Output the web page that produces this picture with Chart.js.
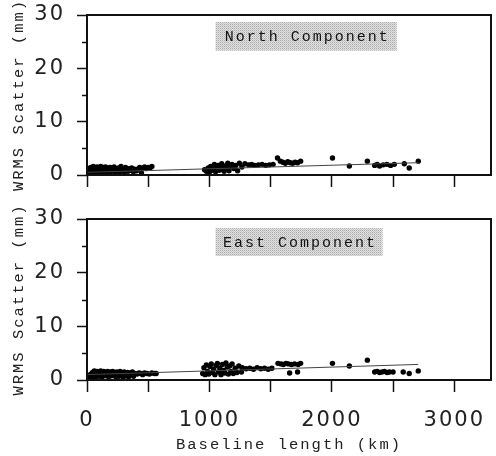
<!DOCTYPE html>
<html>
<head>
<meta charset="utf-8">
<script src="https://cdn.jsdelivr.net/npm/chart.js@4.4.1/dist/chart.umd.min.js"></script>
<style>
  body { margin: 0; background: #fff; }
  #wrap { position: relative; width: 496px; height: 456px; }
  canvas { position: absolute; left: 0; }
</style>
</head>
<body>
<div id="wrap">
  <canvas id="north" width="496" height="196" style="top:0"></canvas>
  <canvas id="east" width="496" height="260" style="top:196px"></canvas>
</div>
<script>
// axis ticks
const xTicks = [0, 500, 1000, 1500, 2000, 2500, 3000];
const xLabels = [0, 1000, 2000, 3000];
const yTicks = [0, 5, 10, 15, 20, 25, 30];
const yLabels = [0, 10, 20, 30];

// North component: baseline length (km) vs WRMS scatter (mm)
const northKm = [
  12, 18, 25, 30, 38, 45, 52, 60, 66, 75, 82, 90, 98, 105, 112, 120, 128, 135, 145, 152,
  160, 170, 178, 186, 195, 205, 214, 222, 232, 240, 250, 258, 268, 278, 288, 296, 305, 315, 325, 335,
  345, 355, 365, 378, 390, 405, 420, 430, 445, 455, 470, 485, 500, 515, 530,
  960, 975, 990, 1000, 1010, 1020, 1030, 1040, 1050, 1060, 1070, 1080, 1090, 1100, 1110, 1120, 1130,
  1140, 1150, 1160, 1170, 1185, 1200, 1215, 1230, 1245,
  1265, 1290, 1320, 1345, 1370, 1400, 1430, 1460, 1490, 1520,
  1556, 1580, 1600, 1620, 1640, 1660, 1680, 1700, 1720, 1745,
  2005, 2143, 2290, 2350, 2370, 2390, 2420, 2450, 2480, 2510, 2592, 2632, 2706
];
const northMm = [
  0.5, 1.2, 0.8, 1.4, 0.4, 1.1, 1.6, 0.7, 1.3, 0.5, 1.5, 0.9, 1.2, 0.4, 1.6, 1.0, 0.6, 1.4, 0.8, 1.5,
  0.5, 1.2, 0.9, 1.4, 0.6, 1.3, 1.0, 1.5, 0.5, 1.1, 0.8, 1.3, 0.6, 1.6, 0.9, 1.2, 0.5, 1.4, 1.0, 0.7,
  1.2, 0.9, 1.3, 0.6, 1.1, 0.8, 1.2, 1.4, 0.4, 1.3, 1.5, 1.2, 1.4, 1.3, 1.6,
  1.0, 0.7, 1.3, 0.5, 1.6, 0.9, 1.2, 2.0, 0.6, 1.4, 1.8, 0.9, 1.5, 2.1, 1.1, 0.7, 1.7,
  1.3, 2.2, 0.8, 1.6, 2.0, 1.2, 1.8, 0.8, 2.2,
  1.5, 2.1, 1.9, 2.0, 1.8, 1.9, 2.0, 1.8, 1.9, 2.0,
  3.2, 2.6, 2.4, 2.2, 2.5, 2.3, 2.2, 2.4, 2.3, 2.6,
  3.2, 1.7, 2.6, 1.8, 2.0, 1.7, 1.9, 2.0, 1.8, 2.0, 2.1, 1.3, 2.6
];
const northFitKm = [0, 2706];
const northFitMm = [0.5, 2.3];

// East component
const eastKm = [
  15, 22, 30, 38, 45, 52, 60, 68, 75, 82, 90, 98, 105, 112, 120, 128, 136, 145, 152, 160,
  168, 176, 185, 193, 200, 210, 218, 226, 235, 244, 252, 260, 270, 278, 286, 295, 304, 312, 320, 330,
  340, 350, 360, 370, 380, 392,
  410, 425, 440, 455, 470, 490, 510, 530, 550, 565,
  945, 955, 965, 975, 985, 995, 1005, 1015, 1025, 1035, 1045, 1055, 1065, 1075, 1085, 1095, 1105,
  1115, 1125, 1135, 1145, 1155, 1165, 1175, 1185, 1195, 1210, 1225, 1240,
  1262, 1268, 1300, 1330, 1360, 1390, 1420, 1450, 1480, 1510,
  1560, 1585, 1605, 1625, 1645, 1655, 1670, 1695, 1720, 1725, 1745,
  2005, 2143, 2290, 2350, 2370, 2390, 2410, 2430, 2450, 2470, 2500, 2583, 2632, 2706
];
const eastMm = [
  0.4, 0.8, 1.1, 0.5, 1.4, 0.9, 1.7, 0.6, 1.3, 1.6, 0.7, 1.5, 1.0, 1.7, 0.5, 1.3, 1.6, 0.8, 1.4, 1.1,
  1.6, 0.6, 1.3, 1.5, 0.8, 1.6, 1.0, 1.4, 0.6, 1.5, 1.2, 0.7, 1.6, 1.0, 1.3, 0.5, 1.5, 1.1, 0.8, 1.4,
  0.6, 1.3, 1.0, 1.5, 0.7, 1.2,
  1.1, 1.3, 1.2, 1.0, 1.3, 1.2, 1.1, 1.3, 1.2, 1.2,
  1.2, 2.3, 1.0, 2.8, 1.6, 1.1, 2.5, 3.0, 1.4, 2.0, 1.0, 2.7, 3.1, 1.5, 2.2, 1.0, 2.9,
  1.8, 1.3, 3.2, 2.4, 1.1, 2.6, 1.6, 3.0, 1.2, 2.2, 1.4, 2.6,
  1.5, 2.3, 2.1, 2.2, 2.0, 2.3, 2.1, 2.2, 2.0, 2.2,
  3.1, 3.0, 2.9, 3.1, 3.0, 1.3, 2.9, 3.0, 1.5, 2.9, 3.1,
  3.1, 2.6, 3.7, 1.5, 1.6, 1.4, 1.5, 1.6, 1.4, 1.5, 1.5, 1.5, 1.2, 1.7
];
const eastFitKm = [0, 2706];
const eastFitMm = [1.0, 2.9];

const monoFont = '"Liberation Mono", "DejaVu Sans Mono", monospace';

const stipple = (() => {
  const c = document.createElement('canvas');
  c.width = 2; c.height = 2;
  const g = c.getContext('2d');
  g.fillStyle = '#e2e2e2'; g.fillRect(0, 0, 2, 2);
  g.fillStyle = '#a9a9a9'; g.fillRect(0, 0, 1, 1);
  g.fillStyle = '#c6c6c6'; g.fillRect(1, 1, 1, 1);
  return c;
})();

const decor = {
  id: 'panelDecor',
  beforeDraw(chart) {
    chart.ctx.letterSpacing = '2px';
  },
  afterDatasetsDraw(chart, args, opts) {
    const { ctx, chartArea: a, scales: { x, y } } = chart;
    ctx.save();
    ctx.strokeStyle = '#111';
    // minor y ticks
    ctx.lineWidth = 1.5;
    yTicks.filter(v => v % 10 !== 0).forEach(v => {
      const py = Math.round(y.getPixelForValue(v)) + 0.5;
      ctx.beginPath();
      ctx.moveTo(a.left - 5, py);
      ctx.lineTo(a.left, py);
      ctx.stroke();
    });
    // frame
    ctx.lineWidth = 2;
    ctx.strokeRect(a.left, a.top, a.right - a.left, a.bottom - a.top);

    // label box
    const bx0 = x.getPixelForValue(opts.box[0]);
    const bx1 = x.getPixelForValue(opts.box[1]);
    const by0 = y.getPixelForValue(opts.box[2]);
    const by1 = y.getPixelForValue(opts.box[3]);
    ctx.fillStyle = ctx.createPattern(stipple, 'repeat');
    ctx.fillRect(bx0, by0, bx1 - bx0, by1 - by0);
    ctx.fillStyle = '#111';
    ctx.font = '15px ' + monoFont;
    ctx.letterSpacing = '2px';
    ctx.textAlign = 'center';
    ctx.textBaseline = 'middle';
    ctx.fillText(opts.text, (bx0 + bx1) / 2 + 1, (by0 + by1) / 2 + 1);
    ctx.restore();
  }
};

function makePanel(canvas, km, mm, fitKm, fitMm, text, box, showX, padTop, xHeight) {
  const points = km.map((v, i) => ({ x: v, y: mm[i] }));
  const fit = fitKm.map((v, i) => ({ x: v, y: fitMm[i] }));
  return new Chart(canvas, {
    type: 'scatter',
    data: {
      datasets: [
        {
          data: fit,
          showLine: true,
          borderColor: '#444',
          borderWidth: 1,
          pointRadius: 0,
        },
        {
          data: points,
          pointRadius: 2.7,
          pointBackgroundColor: '#000',
          pointBorderWidth: 0,
        }
      ]
    },
    options: {
      responsive: false,
      animation: false,
      devicePixelRatio: 1,
      layout: { padding: { top: padTop, right: 5, left: 0, bottom: 0 } },
      scales: {
        x: {
          type: 'linear',
          min: 0,
          max: 3300,
          afterBuildTicks: s => { s.ticks = xTicks.map(v => ({ value: v })); },
          afterFit: s => {
            s.height = xHeight;
            s.paddingLeft = 0; s.paddingRight = 0;
          },
          border: { display: false },
          grid: {
            drawOnChartArea: false,
            tickLength: 12,
            tickWidth: 1.5,
            tickColor: '#111',
          },
          ticks: {
            display: showX,
            padding: 16,
            color: '#222',
            maxRotation: 0,
            autoSkip: false,
            font: { family: '"DejaVu Sans", sans-serif', size: 21 },
            callback: v => xLabels.includes(v) ? String(v) : '',
          },
          title: {
            display: showX,
            text: 'Baseline length (km)',
            color: '#222',
            padding: { top: 0, bottom: 2 },
            font: { family: monoFont, size: 15.5 },
          },
        },
        y: {
          min: 0,
          max: 30,
          afterBuildTicks: s => { s.ticks = yTicks.map(v => ({ value: v })); },
          afterFit: s => {
            s.width = 87;
            s.paddingTop = 0; s.paddingBottom = 0;
          },
          border: { display: false },
          grid: {
            drawOnChartArea: false,
            tickLength: 10,
            tickWidth: 1.5,
            tickColor: c => (c.tick && c.tick.value % 10 === 0) ? '#111' : 'rgba(0,0,0,0)',
          },
          ticks: {
            padding: 12,
            color: '#222',
            autoSkip: false,
            font: { family: '"DejaVu Sans", sans-serif', size: 21 },
            callback: v => yLabels.includes(v) ? String(v) : '',
          },
          title: {
            display: true,
            text: 'WRMS Scatter (mm)',
            color: '#222',
            padding: { top: 10, bottom: 0 },
            font: { family: monoFont, size: 15.5 },
          },
        },
      },
      plugins: {
        legend: { display: false },
        tooltip: { enabled: false },
        panelDecor: { text: text, box: box },
      },
    },
    plugins: [decor],
  });
}

makePanel(document.getElementById('north'), northKm, northMm, northFitKm, northFitMm,
  'North Component', [1050, 2530, 28.7, 23.3], false, 15, 21);
makePanel(document.getElementById('east'), eastKm, eastMm, eastFitKm, eastFitMm,
  'East Component', [1050, 2415, 28.3, 23.1], true, 23, 76);
</script>
</body>
</html>
